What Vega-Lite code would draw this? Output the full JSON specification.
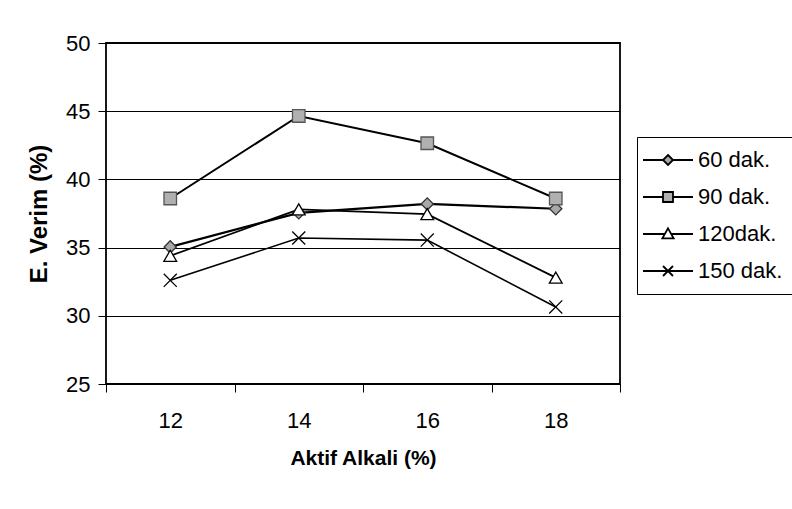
{
  "$schema": "https://vega.github.io/schema/vega-lite/v6.json",
  "width": 514,
  "height": 341,
  "autosize": {"type": "none"},
  "padding": {"left": 106, "top": 43, "right": 172, "bottom": 125},
  "background": "white",
  "config": {
    "font": "Liberation Sans",
    "view": {"stroke": "black", "strokeWidth": 1.8},
    "axis": {"labelColor": "black", "titleColor": "black", "tickColor": "black", "domain": false, "labelFont": "Liberation Sans", "titleFont": "Liberation Sans"}
  },
  "data": {
    "values": [
      {"seri": "60 dak.", "alkali": 12, "verim": 35.05},
      {"seri": "60 dak.", "alkali": 14, "verim": 37.55},
      {"seri": "60 dak.", "alkali": 16, "verim": 38.2},
      {"seri": "60 dak.", "alkali": 18, "verim": 37.85},
      {"seri": "90 dak.", "alkali": 12, "verim": 38.6},
      {"seri": "90 dak.", "alkali": 14, "verim": 44.65},
      {"seri": "90 dak.", "alkali": 16, "verim": 42.65},
      {"seri": "90 dak.", "alkali": 18, "verim": 38.6},
      {"seri": "120dak.", "alkali": 12, "verim": 34.4},
      {"seri": "120dak.", "alkali": 14, "verim": 37.8},
      {"seri": "120dak.", "alkali": 16, "verim": 37.45},
      {"seri": "120dak.", "alkali": 18, "verim": 32.8},
      {"seri": "150 dak.", "alkali": 12, "verim": 32.6},
      {"seri": "150 dak.", "alkali": 14, "verim": 35.7},
      {"seri": "150 dak.", "alkali": 16, "verim": 35.55},
      {"seri": "150 dak.", "alkali": 18, "verim": 30.65}
    ]
  },
  "encoding": {
    "y": {
      "field": "verim", "type": "quantitative",
      "scale": {"domain": [25, 50], "nice": false, "zero": false},
      "axis": {
        "values": [25, 30, 35, 40, 45, 50], "grid": true, "gridColor": "black", "gridWidth": 1, "gridOpacity": 1,
        "tickSize": 8, "labelPadding": 8, "labelFontSize": 22,
        "title": "E. Verim (%)", "titleFontSize": 24, "titleFontWeight": "bold", "titlePadding": 14
      }
    }
  },
  "layer": [
    {
      "mark": {"type": "line", "color": "black"},
      "encoding": {
        "x": {
          "field": "alkali", "type": "quantitative",
          "scale": {"domain": [11, 19], "nice": false, "zero": false},
          "axis": {"orient": "bottom", "values": [11, 13, 15, 17, 19], "labels": false, "title": null, "tickSize": 8, "grid": false}
        },
        "detail": {"field": "seri"},
        "strokeWidth": {"field": "seri", "type": "nominal", "scale": {"domain": ["60 dak.", "90 dak.", "120dak.", "150 dak."], "range": [2.2, 1.6, 1.8, 2.6]}, "legend": null}
      }
    },
    {
      "mark": {"type": "point", "filled": true, "opacity": 1},
      "encoding": {
        "x": {
          "field": "alkali", "type": "quantitative",
          "axis": {"orient": "bottom", "values": [12, 14, 16, 18], "ticks": false, "labelFontSize": 22, "labelPadding": 26, "title": "Aktif Alkali (%)", "titleFontSize": 21, "titleFontWeight": "bold", "titlePadding": 16}
        },
        "shape": {"field": "seri", "type": "nominal", "scale": {"domain": ["60 dak.", "90 dak.", "120dak.", "150 dak."], "range": ["diamond", "square", "triangle-up", "M-1,-1L1,1M-1,1L1,-1"]}, "legend": null},
        "fill": {"field": "seri", "type": "nominal", "scale": {"domain": ["60 dak.", "90 dak.", "120dak.", "150 dak."], "range": ["#a8a8a8", "#b0b0b0", "white", "transparent"]}, "legend": null},
        "stroke": {"field": "seri", "type": "nominal", "scale": {"domain": ["60 dak.", "90 dak.", "120dak.", "150 dak."], "range": ["#333333", "#555555", "black", "black"]}, "legend": null},
        "strokeWidth": {"field": "seri", "type": "nominal", "scale": {"domain": ["60 dak.", "90 dak.", "120dak.", "150 dak."], "range": [1.3, 1.3, 1.6, 3]}, "legend": null},
        "size": {"field": "seri", "type": "nominal", "scale": {"domain": ["60 dak.", "90 dak.", "120dak.", "150 dak."], "range": [150, 170, 170, 190]}, "legend": null}
      }
    },
    {
      "transform": [{"filter": "false"}],
      "mark": {"type": "point", "filled": true, "opacity": 1, "strokeWidth": 1.8},
      "encoding": {
        "x": {"field": "alkali", "type": "quantitative", "axis": null},
        "shape": {
          "field": "seri", "type": "nominal",
          "scale": {"domain": ["60 dak.", "90 dak.", "120dak.", "150 dak."], "range": [
            "M-4,0H-0.8M0.8,0H4M0,-0.8L0.8,0L0,0.8L-0.8,0Z",
            "M-4,0H-0.8M0.8,0H4M-0.8,-0.8H0.8V0.8H-0.8Z",
            "M-4,0H-0.5M0.5,0H4M0,-0.9L0.9,0.7L-0.9,0.7Z",
            "M-4,0H4M-0.8,-0.8L0.8,0.8M-0.8,0.8L0.8,-0.8"
          ]},
          "legend": {
            "title": null, "orient": "none", "legendX": 531, "legendY": 94,
            "strokeColor": "black", "fillColor": "white", "padding": 12,
            "labelFontSize": 22, "labelColor": "black", "labelFont": "Liberation Sans",
            "symbolSize": 156, "symbolOffset": 8, "labelOffset": 19, "rowPadding": 15, "symbolStrokeWidth": 1.8
          }
        },
        "fill": {"field": "seri", "type": "nominal", "scale": {"domain": ["60 dak.", "90 dak.", "120dak.", "150 dak."], "range": ["#a8a8a8", "#b0b0b0", "white", "transparent"]}},
        "stroke": {"field": "seri", "type": "nominal", "scale": {"domain": ["60 dak.", "90 dak.", "120dak.", "150 dak."], "range": ["black", "black", "black", "black"]}}
      }
    }
  ],
  "resolve": {
    "scale": {"shape": "independent", "fill": "independent", "stroke": "independent", "strokeWidth": "independent", "size": "independent"},
    "axis": {"x": "independent"}
  }
}
